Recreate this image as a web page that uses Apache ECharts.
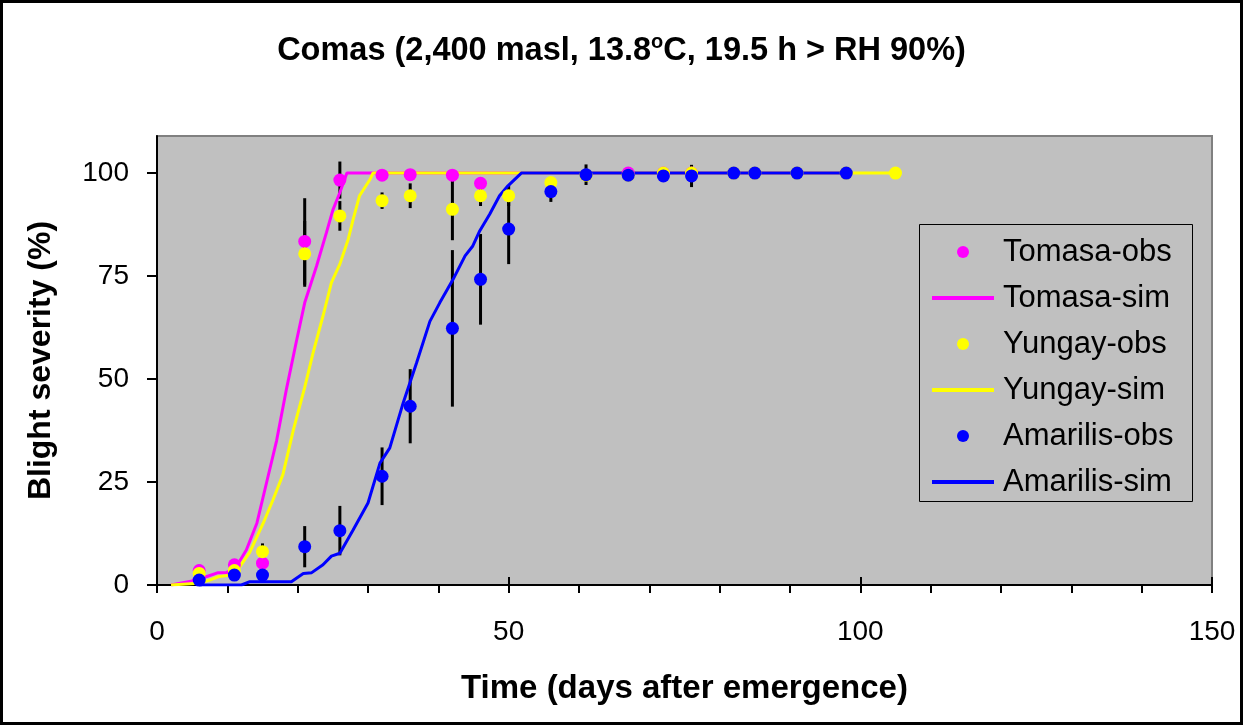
<!DOCTYPE html>
<html>
<head>
<meta charset="utf-8">
<script src="https://cdn.jsdelivr.net/npm/echarts@6/dist/echarts.min.js"></script>
<style>
html,body{margin:0;padding:0;background:#fff;}
#chart{width:1243px;height:725px;}
</style>
</head>
<body>
<div id="chart"></div>
<script>
// ---- data ----
const obsDays = [6, 11, 15, 21, 26, 32, 36, 42, 46, 50, 56, 61, 67, 72, 76, 82, 85, 91, 98, 105];
const tomasaObs = [3.5, 4.9, 5.3, 83.4, 98.3, 99.5, 99.6, 99.5, 97.5, null, null, null, 100, 100, 100, null, null, null, null, null];
const tomasaErr = [1.4, 0, 0, 10.5, 4.5, 0.5, 0, 0, 0, 0, 0, 0, 0, 0, 0, 0, 0, 0, 0, 0];
const yungayObs = [2.8, 3.5, 8.1, 80.4, 89.6, 93.3, 94.5, 91.2, 94.5, 94.5, 97.7, 99.5, 99.5, 100, 100, 100, 100, 100, 100, 100];
const yungayErr = [0, 0, 2, 8, 3.6, 2, 3, 7.5, 2.5, 2.5, 1.3, 0, 0, 0, 0, 0, 0, 0, 0, 0];
const amarilisObs = [1.2, 2.4, 2.4, 9.3, 13.2, 26.4, 43.4, 62.3, 74.2, 86.4, 95.5, 99.6, 99.5, 99.3, 99.3, 100, 100, 100, 100, null];
const amarilisErr = [0, 0, 0, 5, 6, 7, 9, 19, 11, 8.5, 2.5, 2.5, 0, 0, 2.7, 0, 0, 0, 0, 0];

const tomasaSim = [[2,0],[5,1],[6,2],[7,2],[8.7,3],[9.9,3],[11.3,4.5],[12.7,8.5],[14.2,15],[15.6,25],[17,35],[18.4,47.5],[19.8,59],[21,68.5],[22.7,77.5],[24.1,85.6],[25,91],[26,95.3],[27,100],[98,100]];
const yungaySim = [[2,0],[5.9,0.4],[7.5,1.2],[8.7,2],[10.4,2.4],[11.8,4.5],[13.2,8],[15.1,15],[16.5,20.7],[17.9,26.8],[19.4,37.7],[21,48],[22.2,56.4],[23.6,65.3],[24.8,73.4],[26,77.9],[27.2,84],[27.9,88.8],[28.8,94.5],[30.3,98.5],[30.7,100],[105,100]];
const amarilisSim = [[6,0],[12,0],[13.2,0.8],[19.1,0.8],[20.8,2.8],[22,3],[23.6,4.9],[24.8,7],[26,7.7],[27.9,13.4],[30,19.9],[31.7,29.6],[33.1,33.3],[35,44.2],[36.9,53.9],[38.8,64],[40.2,68.5],[42.1,74.2],[43.8,79.9],[44.9,82.3],[45.9,86],[47.3,90],[48.7,94.5],[49.9,96.9],[51.8,100],[98,100]];

const obsNames = ['Tomasa-obs', 'Yungay-obs', 'Amarilis-obs'];
const simNames = ['Tomasa-sim', 'Yungay-sim', 'Amarilis-sim'];
const yTicks = [0, 25, 50, 75, 100];
const xLabelTicks = [0, 50, 100, 150];

// ---- build ----
const FONT = '"Liberation Sans", Arial, sans-serif';
function pts(vals) {
  return obsDays.map((d, i) => vals[i] == null ? null : [d, vals[i]]).filter(p => p);
}
function errs(vals, e) {
  return obsDays.map((d, i) => (vals[i] == null || !e[i]) ? null : [d, vals[i], e[i]]).filter(p => p);
}
function errSeries(vals, e) {
  return {
    type: 'custom', z: 1, silent: true,
    data: errs(vals, e),
    renderItem: function (params, api) {
      const x = api.value(0), y = api.value(1), er = api.value(2);
      const p1 = api.coord([x, y - er]);
      const p2 = api.coord([x, y + er]);
      return { type: 'line', shape: { x1: p1[0], y1: p1[1], x2: p2[0], y2: p2[1] },
               style: { stroke: '#000', lineWidth: 3 } };
    }
  };
}
function obsSeries(name, vals, color) {
  return { name: name, type: 'scatter', z: 2, symbol: 'circle', symbolSize: 13,
           itemStyle: { color: color, opacity: 1 }, data: pts(vals) };
}
function simSeries(name, data, color) {
  return { name: name, type: 'line', z: 2, symbol: 'none', showSymbol: false,
           lineStyle: { color: color, width: 3 }, itemStyle: { color: color }, data: data };
}

const legendData = [];
for (let i = 0; i < 3; i++) {
  legendData.push({ name: obsNames[i] });
  legendData.push({ name: simNames[i], itemStyle: { opacity: 0 }, lineStyle: { width: 4 } });
}

const chart = echarts.init(document.getElementById('chart'), null, { renderer: 'canvas' });
chart.setOption({
  animation: false,
  backgroundColor: '#fff',
  title: {
    left: 'center', top: 27,
    text: '{a|Comas (2,400 masl, 13.8}{s|o}{a|C, 19.5 h > RH 90%)}',
    textStyle: {
      rich: {
        a: { fontFamily: FONT, fontSize: 32.5, fontWeight: 'bold', color: '#000', lineHeight: 38 },
        s: { fontFamily: FONT, fontSize: 20, fontWeight: 'bold', color: '#000', lineHeight: 20, verticalAlign: 'top' }
      }
    }
  },
  graphic: [
    { type: 'rect', z: 100, silent: true, shape: { x: 1.5, y: 1.5, width: 1240, height: 722 },
      style: { fill: 'none', stroke: '#000', lineWidth: 3 } },
    { type: 'rect', z: 3, silent: true, shape: { x: 919.5, y: 224.5, width: 273, height: 277 },
      style: { fill: '#C0C0C0', stroke: '#000', lineWidth: 1 } }
  ],
  legend: {
    data: legendData,
    orient: 'vertical',
    left: 930, top: 236,
    padding: 0,
    itemWidth: 62, itemHeight: 12, itemGap: 14,
    z: 5,
    textStyle: { fontFamily: FONT, fontSize: 31, color: '#000', lineHeight: 32, padding: [0, 0, 0, 4] }
  },
  grid: {
    left: 157, right: 31, top: 136, bottom: 140,
    show: true, backgroundColor: '#C0C0C0', borderColor: '#808080', borderWidth: 2
  },
  xAxis: [{
    type: 'value', min: 0, max: 150, interval: 10,
    name: 'Time (days after emergence)', nameLocation: 'middle', nameGap: 87,
    nameTextStyle: { fontFamily: FONT, fontSize: 33, fontWeight: 'bold', color: '#000' },
    axisLine: { show: true, onZero: false, lineStyle: { color: '#000', width: 2 } },
    axisTick: { show: true, length: 8, lineStyle: { color: '#000', width: 2 } },
    axisLabel: { customValues: xLabelTicks, fontFamily: FONT, fontSize: 28, color: '#000', margin: 33 },
    splitLine: { show: false }
  }, {
    type: 'value', min: 0, max: 150, interval: 50, position: 'bottom', gridIndex: 0,
    axisLine: { show: false },
    axisTick: { show: true, inside: true, length: 8, lineStyle: { color: '#000', width: 2 } },
    axisLabel: { show: false },
    splitLine: { show: false }
  }],
  yAxis: {
    type: 'value', min: 0, max: 109,
    name: 'Blight severity (%)', nameLocation: 'middle', nameGap: 100,
    nameTextStyle: { fontFamily: FONT, fontSize: 32, fontWeight: 'bold', color: '#000' },
    axisLine: { show: true, onZero: false, lineStyle: { color: '#000', width: 2 } },
    axisTick: { show: true, customValues: yTicks, length: 10, lineStyle: { color: '#000', width: 2 } },
    axisLabel: { customValues: yTicks, fontFamily: FONT, fontSize: 28, color: '#000', margin: 28 },
    splitLine: { show: false }
  },
  series: [
    errSeries(tomasaObs, tomasaErr),
    errSeries(yungayObs, yungayErr),
    errSeries(amarilisObs, amarilisErr),
    obsSeries('Tomasa-obs', tomasaObs, '#FF00FF'),
    simSeries('Tomasa-sim', tomasaSim, '#FF00FF'),
    obsSeries('Yungay-obs', yungayObs, '#FFFF00'),
    simSeries('Yungay-sim', yungaySim, '#FFFF00'),
    obsSeries('Amarilis-obs', amarilisObs, '#0000FF'),
    simSeries('Amarilis-sim', amarilisSim, '#0000FF')
  ]
});
</script>
</body>
</html>
